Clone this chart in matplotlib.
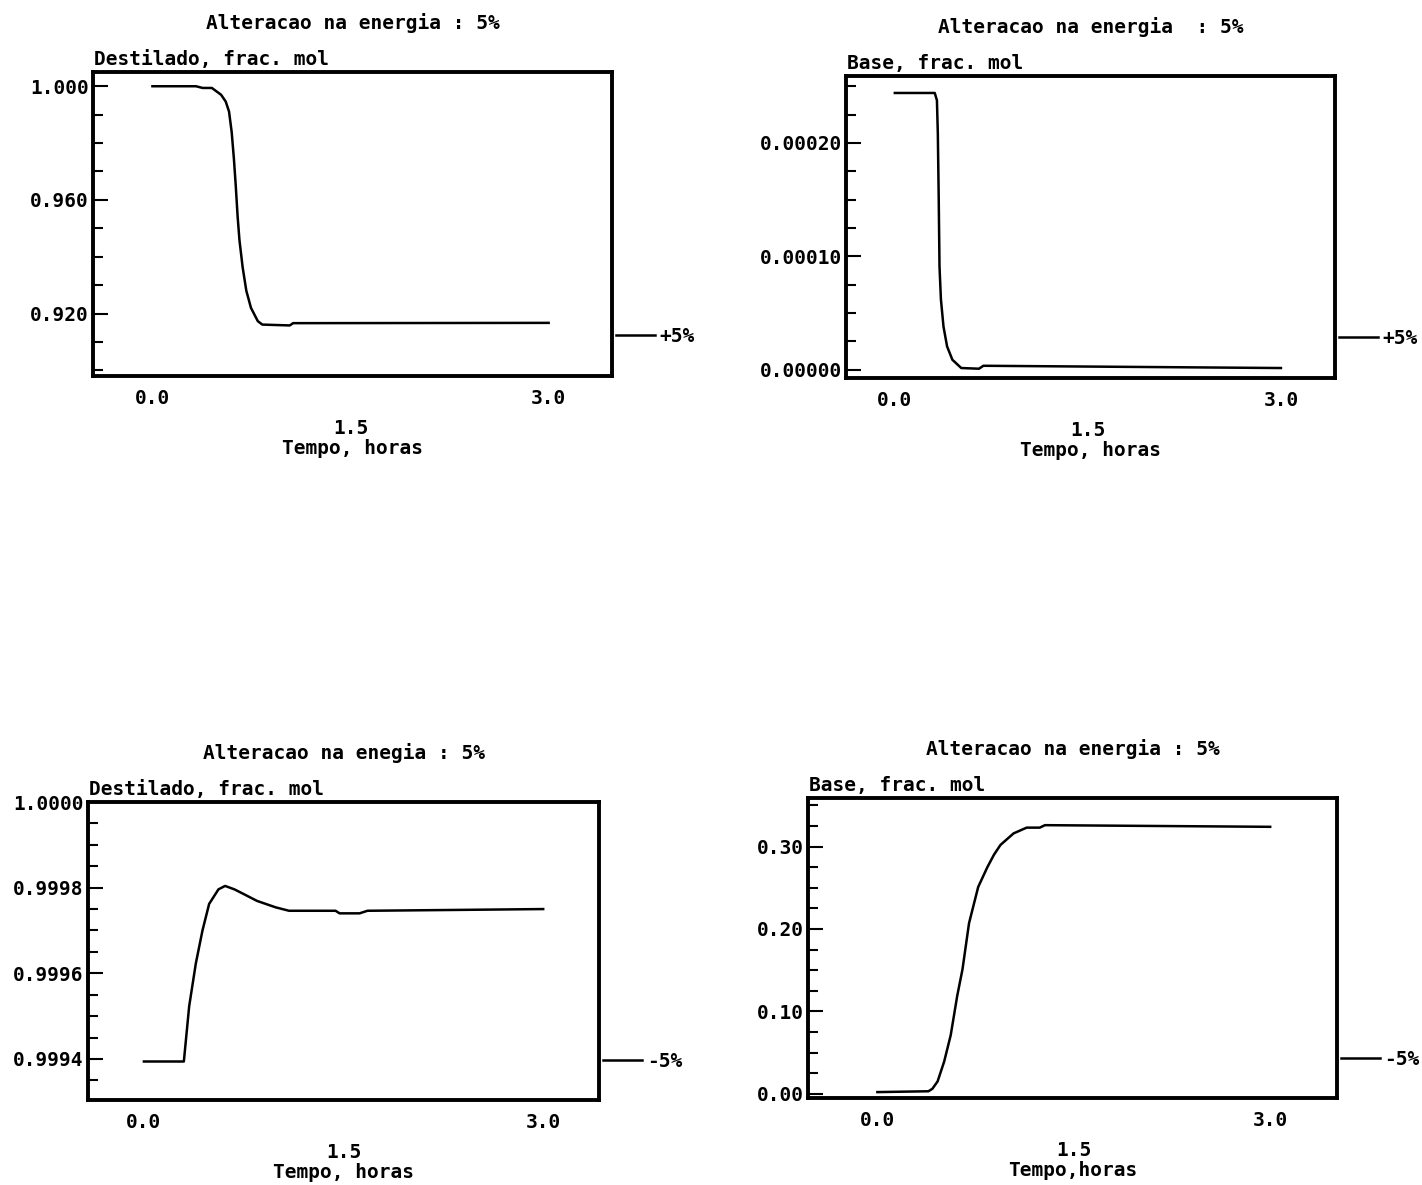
import matplotlib
matplotlib.use('Agg')
import matplotlib.pyplot as plt
from matplotlib.ticker import MultipleLocator

plt.rcParams['font.family'] = ['DejaVu Sans Mono']
plt.rcParams['font.size'] = 14
plt.rcParams['font.weight'] = 'bold'
plt.rcParams['axes.titlesize'] = 14
plt.rcParams['axes.titleweight'] = 'bold'
plt.rcParams['axes.labelsize'] = 14
plt.rcParams['axes.labelweight'] = 'bold'

# Destilado, +5% na energia
t_dest_up = [0.0, 0.33, 0.38, 0.45, 0.52, 0.555, 0.58, 0.60, 0.617, 0.631, 0.645,
             0.659, 0.683, 0.711, 0.746, 0.798, 0.832, 1.04, 1.065, 3.0]
x_dest_up = [1.000, 1.000, 0.9994, 0.9994, 0.9970, 0.9946, 0.9911, 0.9839, 0.9744,
             0.9649, 0.9542, 0.9458, 0.9363, 0.9280, 0.9220, 0.9173, 0.9161,
             0.9158, 0.9166, 0.9167]

# Base, +5% na energia
t_base_up = [0.0, 0.31, 0.327, 0.334, 0.341, 0.347, 0.358, 0.378, 0.406, 0.447,
             0.516, 0.654, 0.688, 3.0]
x_base_up = [2.44e-4, 2.44e-4, 2.375e-4, 2.08e-4, 1.50e-4, 9.1e-5, 6.2e-5, 3.8e-5,
             2.05e-5, 8.8e-6, 1.5e-6, 0.9e-6, 3.5e-6, 1.5e-6]

# Destilado, -5% na energia
t_dest_dn = [0.0, 0.30, 0.34, 0.39, 0.44, 0.49, 0.56, 0.61, 0.68, 0.75, 0.85, 0.99,
             1.09, 1.44, 1.47, 1.62, 1.68, 2.36, 3.0]
x_dest_dn = [0.999394, 0.999394, 0.999523, 0.999623, 0.999700, 0.999762, 0.999796,
             0.999804, 0.999796, 0.999785, 0.999769, 0.999754, 0.999746, 0.999746,
             0.999740, 0.999740, 0.999746, 0.999748, 0.999750]

# Base, -5% na energia
t_base_dn = [0.0, 0.39, 0.42, 0.46, 0.51, 0.56, 0.61, 0.65, 0.70, 0.77, 0.84, 0.89,
             0.94, 1.04, 1.14, 1.24, 1.28, 3.0]
x_base_dn = [0.002, 0.003, 0.006, 0.015, 0.039, 0.071, 0.119, 0.151, 0.207, 0.251,
             0.275, 0.290, 0.302, 0.316, 0.323, 0.323, 0.326, 0.324]

xticks = [0.0, 1.5, 3.0]
xticklabels = ['0.0', '1.5', '3.0']

panels = [
    dict(pos=[0.0654, 0.6827, 0.365, 0.2565], t=t_dest_up, x=x_dest_up,
         title='Alteracao na energia : 5%', ylab='Destilado, frac. mol',
         xlab='Tempo, horas', xlim=(-0.45, 3.48), ylim=(0.898, 1.005),
         yticks=[0.92, 0.96, 1.00], yfmt='%.3f', ymin=0.01, leg='+5%'),
    dict(pos=[0.5949, 0.681, 0.3439, 0.2549], t=t_base_up, x=x_base_up,
         title='Alteracao na energia  : 5%', ylab='Base, frac. mol',
         xlab='Tempo, horas', xlim=(-0.38, 3.42), ylim=(-0.0000073, 0.000259),
         yticks=[0.0, 0.0001, 0.0002], yfmt='%.5f', ymin=0.000025, leg='+5%'),
    dict(pos=[0.0619, 0.0717, 0.3594, 0.2515], t=t_dest_dn, x=x_dest_dn,
         title='Alteracao na enegia : 5%', ylab='Destilado, frac. mol',
         xlab='Tempo, horas', xlim=(-0.42, 3.42), ylim=(0.999304, 1.0000),
         yticks=[0.9994, 0.9996, 0.9998, 1.0000], yfmt='%.4f', ymin=0.00005, leg='-5%'),
    dict(pos=[0.5682, 0.0734, 0.372, 0.2532], t=t_base_dn, x=x_base_dn,
         title='Alteracao na energia : 5%', ylab='Base, frac. mol',
         xlab='Tempo,horas', xlim=(-0.53, 3.51), ylim=(-0.0052, 0.359),
         yticks=[0.0, 0.1, 0.2, 0.3], yfmt='%.2f', ymin=0.025, leg='-5%'),
]

fig = plt.figure(figsize=(14.22, 11.85), dpi=100)

for p in panels:
    ax = fig.add_axes(p['pos'])
    line, = ax.plot(p['t'], p['x'], color='black', lw=1.8)
    ax.set_xlim(p['xlim'])
    ax.set_ylim(p['ylim'])
    for s in ax.spines.values():
        s.set_linewidth(2.8)

    # y axis: ticks inside, labels close to the frame
    ax.set_yticks(p['yticks'], [p['yfmt'] % v for v in p['yticks']])
    ax.yaxis.set_minor_locator(MultipleLocator(p['ymin']))
    ax.tick_params(axis='y', which='major', direction='in', length=11, width=1.5, pad=3)
    ax.tick_params(axis='y', which='minor', direction='in', length=7, width=1.5)

    # x axis: no tick marks, middle label staggered lower
    ax.set_xticks(xticks, xticklabels)
    ax.tick_params(axis='x', length=0, pad=9)
    ax.xaxis.get_major_ticks()[1].set_pad(31)
    ax.set_xlabel(p['xlab'], labelpad=1)

    ax.set_title(p['title'], pad=31)
    ax.annotate(p['ylab'], xy=(0, 1), xycoords='axes fraction', xytext=(1, 5),
                textcoords='offset points', ha='left', va='baseline')

    ax.legend([line], [p['leg']], loc='center left', bbox_to_anchor=(1.0, 0.13),
              frameon=False, handlelength=2.0, handletextpad=0.25,
              borderaxespad=0.0, borderpad=0.2)

fig.savefig('out.png', dpi=100, facecolor='white')
